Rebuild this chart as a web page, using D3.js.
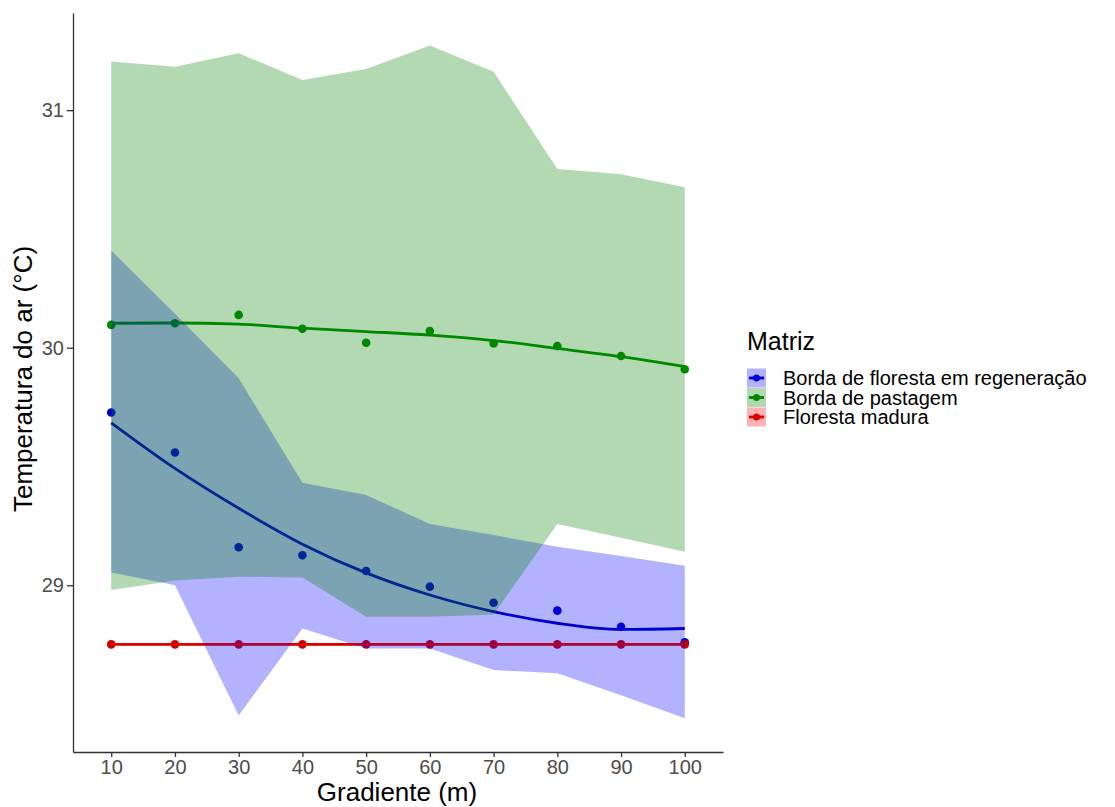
<!DOCTYPE html>
<html>
<head>
<meta charset="utf-8">
<script src="https://cdn.jsdelivr.net/npm/d3@7"></script>
<style>
    body {margin: 0; background: #fff;}
    svg {font-family: "Liberation Sans", Arial, sans-serif;}
</style>
</head>
<body>
<svg id="svg0"></svg>
<script>
// valores
const gradiente = [10, 20, 30, 40, 50, 60, 70, 80, 90, 100];
const xTicks = [10, 20, 30, 40, 50, 60, 70, 80, 90, 100];
const yTicks = [29, 30, 31];

const matrizes = ["Borda de floresta em regeneração", "Borda de pastagem", "Floresta madura"];

// borda de floresta em regeneracao
const regenPontos = [29.727, 29.559, 29.160, 29.126, 29.060, 28.994, 28.926, 28.893, 28.825, 28.760];
const regenAjuste = [29.684, 29.492, 29.324, 29.173, 29.052, 28.959, 28.889, 28.840, 28.814, 28.818];
const regenInf    = [29.054, 29.000, 28.452, 28.818, 28.734, 28.734, 28.643, 28.629, 28.537, 28.440];
const regenSup    = [30.409, 30.143, 29.871, 29.432, 29.380, 29.258, 29.211, 29.162, 29.123, 29.082];

// borda de pastagem
const pastPontos = [30.096, 30.103, 30.138, 30.080, 30.021, 30.070, 30.018, 30.007, 29.965, 29.909];
const pastAjuste = [30.103, 30.104, 30.099, 30.082, 30.068, 30.053, 30.030, 29.997, 29.962, 29.920];
const pastInf    = [28.980, 29.020, 29.036, 29.033, 28.867, 28.867, 28.877, 29.258, 29.200, 29.141];
const pastSup    = [31.205, 31.183, 31.240, 31.127, 31.173, 31.272, 31.162, 30.752, 30.730, 30.675];

// floresta madura
const madPontos = [28.751, 28.751, 28.751, 28.751, 28.751, 28.751, 28.751, 28.751, 28.751, 28.751];
const madAjuste = [28.751, 28.751, 28.751, 28.751, 28.751, 28.751, 28.751, 28.751, 28.751, 28.751];
const madInf    = [28.745, 28.745, 28.745, 28.745, 28.745, 28.745, 28.745, 28.745, 28.745, 28.745];
const madSup    = [28.757, 28.757, 28.757, 28.757, 28.757, 28.757, 28.757, 28.757, 28.757, 28.757];

let width = 1115;
let height = 807;
let panel = {left: 73, right: 723, top: 13, bottom: 752};

let svg = d3.select('#svg0').attr('width', width).attr('height', height);

let xScale = d3.scaleLinear().domain([4, 106]).range([panel.left, panel.right]);
let yScale = d3.scaleLinear().domain([28.298, 31.409]).range([panel.bottom, panel.top]);

let colorScale = d3.scaleOrdinal().domain(matrizes).range(['#0000cd', '#008b00', '#cd0000']);
let lineColor = d3.scaleOrdinal().domain(matrizes).range(['#0000b4', '#008b00', '#cd0000']);
let fillScale = d3.scaleOrdinal().domain(matrizes).range(['#0000ff', '#008000', '#ff0000']);

let series = [
    {nome: matrizes[0], pontos: regenPontos, ajuste: regenAjuste, inf: regenInf, sup: regenSup},
    {nome: matrizes[1], pontos: pastPontos, ajuste: pastAjuste, inf: pastInf, sup: pastSup},
    {nome: matrizes[2], pontos: madPontos, ajuste: madAjuste, inf: madInf, sup: madSup}
];

let g = svg.append('g');

// pontos (desenhados primeiro, as faixas ficam por cima como no original)
series.forEach(s=>{
    g.selectAll('.pt' + matrizes.indexOf(s.nome)).data(s.pontos).enter().append('circle')
        .attr('cx', (d, i)=>{return xScale(gradiente[i]);})
        .attr('cy', d=>{return yScale(d);})
        .attr('r', 4.3)
        .style('fill', colorScale(s.nome));
});

// curvas ajustadas
let line = d3.line().x((d, i)=>{return xScale(gradiente[i]);}).y(d=>{return yScale(d);})
    .curve(d3.curveMonotoneX);

series.forEach(s=>{
    g.append('path').datum(s.ajuste)
        .attr('fill', 'none')
        .style('stroke', lineColor(s.nome)).style('stroke-width', '2.8px')
        .attr('d', line);
});

// faixas
let area = d3.area().x((d, i)=>{return xScale(gradiente[i]);})
    .y0(d=>{return yScale(d[0]);}).y1(d=>{return yScale(d[1]);});

series.forEach(s=>{
    g.append('path').datum(s.inf.map((v, i)=>{return [v, s.sup[i]];}))
        .style('fill', fillScale(s.nome)).style('fill-opacity', 0.3)
        .attr('d', area);
});

// eixos
let xAxis = svg.append('g').attr('transform', 'translate(0, ' + panel.bottom + ')')
    .call(d3.axisBottom(xScale).tickValues(xTicks).tickSize(5).tickSizeOuter(0).tickPadding(3)
        .tickFormat(d3.format('d')));
let yAxis = svg.append('g').attr('transform', 'translate(' + panel.left + ', 0)')
    .call(d3.axisLeft(yScale).tickValues(yTicks).tickSize(6).tickSizeOuter(0).tickPadding(3)
        .tickFormat(d3.format('d')));

[xAxis, yAxis].forEach(ax=>{
    ax.select('.domain').style('stroke', '#333').style('stroke-width', '1.3px');
    ax.selectAll('.tick line').style('stroke', '#333').style('stroke-width', '1.3px');
    ax.selectAll('.tick text').style('fill', '#4d4d4d').style('font-size', '20px')
        .style('font-family', '"Liberation Sans", Arial, sans-serif');
});

// titulos dos eixos
svg.append('text')
    .attr('x', 397).attr('y', 801)
    .text('Gradiente (m)')
    .style('font-size', '26px').style('text-anchor', 'middle').style('fill', '#000');

svg.append('text')
    .attr('transform', 'translate(32, 379) rotate(-90)')
    .text('Temperatura do ar (°C)')
    .style('font-size', '26px').style('text-anchor', 'middle').style('fill', '#000');

// legenda
let legend = svg.append('g').attr('transform', 'translate(747, 0)');
legend.append('text').attr('x', 0).attr('y', 350).text('Matriz')
    .style('font-size', '25px').style('fill', '#000');

let keys = legend.selectAll('.key').data(matrizes).enter().append('g')
    .attr('class', 'key')
    .attr('transform', (d, i)=>{return 'translate(0, ' + (368.5 + i * 19.5) + ')';});

keys.append('rect').attr('width', 19).attr('height', 19).style('fill', '#fff');
keys.append('line').attr('x1', 2).attr('x2', 17).attr('y1', 9.5).attr('y2', 9.5)
    .style('stroke', d=>{return lineColor(d);}).style('stroke-width', '2.8px');
keys.append('circle').attr('cx', 9.5).attr('cy', 9.5).attr('r', 3.5)
    .style('fill', d=>{return colorScale(d);});
keys.append('rect').attr('width', 19).attr('height', 19)
    .style('fill', d=>{return fillScale(d);}).style('fill-opacity', 0.3);
keys.append('text').attr('x', 36).attr('y', 9.5).text(d=>{return d;})
    .style('font-size', '20px').style('dominant-baseline', 'central').style('fill', '#000');
</script>
</body>
</html>
